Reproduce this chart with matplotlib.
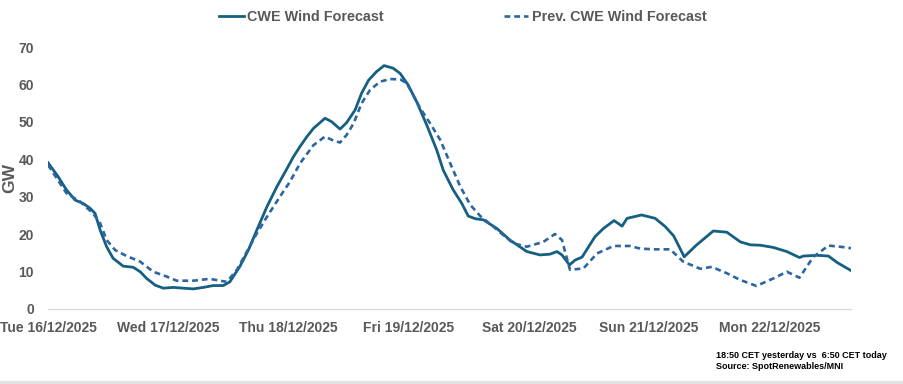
import matplotlib
matplotlib.use("Agg")
import matplotlib.pyplot as plt
import matplotlib.dates as mdates
from matplotlib.patches import Rectangle
import numpy as np
import pandas as pd

# Hours after Tue 16/12/2025 00:00 and forecast values in GW
cwe_hours = [0.0, 2.0, 3.7, 5.4, 7.0, 8.4, 9.4, 10.4, 11.7, 13.0, 15.0, 17.0, 18.4, 19.7,
             21.4, 23.0, 25.0, 27.0, 29.0, 31.0, 33.0, 35.0, 36.3, 38.3, 40.0, 41.7, 43.7,
             45.7, 47.7, 49.0, 50.3, 51.7, 53.0, 55.3, 56.6, 58.3, 59.6, 61.3, 62.6, 64.0,
             65.6, 67.1, 68.9, 70.3, 71.9, 73.6, 75.6, 77.6, 78.9, 80.9, 82.6, 83.9, 85.3,
             86.9, 89.6, 92.2, 95.6, 98.2, 100.2, 101.6, 102.6, 104.1, 105.2, 106.6, 109.2,
             110.9, 113.0, 114.6, 115.6, 118.5, 121.2, 123.2, 124.9, 127.0, 129.5, 132.8,
             135.5, 138.2, 140.2, 142.2, 144.8, 147.5, 150.0, 150.8, 153.5, 155.8, 157.5, 160.3]
cwe_gw = [39.1, 35.4, 31.8, 29.1, 28.2, 26.9, 25.5, 21.1, 16.6, 13.5, 11.4, 11.1, 9.9, 8.1,
          6.3, 5.5, 5.7, 5.5, 5.3, 5.7, 6.2, 6.2, 7.2, 11.3, 15.7, 21.1, 27.3,
          32.7, 37.5, 40.7, 43.4, 46.1, 48.3, 51.0, 50.1, 48.1, 49.8, 53.2, 57.7, 61.2,
          63.5, 65.1, 64.4, 63.0, 59.9, 55.4, 49.2, 42.5, 37.1, 31.8, 28.2, 24.8, 24.1,
          23.8, 21.5, 18.4, 15.3, 14.4, 14.6, 15.3, 14.4, 11.7, 13.0, 13.8, 19.3,
          21.5, 23.6, 22.1, 24.2, 25.1, 24.2, 22.0, 19.5, 13.9, 17.1, 20.8,
          20.5, 17.9, 17.1, 17.0, 16.4, 15.3, 13.7, 14.1, 14.3, 14.1, 12.4, 10.2]

prev_hours = [0.0, 3.7, 6.4, 9.0, 10.4, 11.7, 13.4, 15.7, 18.4, 21.0, 23.7, 25.7, 29.0, 32.3,
              34.3, 35.7, 37.7, 39.7, 41.7, 43.7, 46.3, 48.3, 50.3, 53.0, 55.3, 57.0, 58.3,
              59.6, 61.0, 62.6, 64.3, 66.3, 68.3, 70.3, 71.6, 72.9, 74.3, 76.3, 78.3, 80.3,
              82.3, 84.3, 86.3, 88.9, 90.9, 92.9, 95.6, 98.9, 101.2, 102.6, 104.2, 106.9,
              109.6, 112.9, 116.2, 118.2, 120.9, 124.2, 126.8, 130.2, 132.5, 135.5, 138.2,
              141.4, 144.8, 147.5, 150.0, 152.8, 155.8, 158.1, 160.3]
prev_gw = [38.5, 30.9, 28.7, 25.5, 22.9, 18.4, 15.7, 14.1, 12.6, 9.9, 8.6, 7.5, 7.5, 8.0,
           7.5, 7.2, 10.4, 15.3, 20.2, 24.6, 30.0, 34.0, 38.9, 43.8, 46.1, 45.0, 44.5,
           46.5, 49.6, 55.0, 58.6, 60.8, 61.5, 61.4, 60.4, 57.2, 53.7, 49.6, 45.2, 38.9,
           32.7, 27.8, 24.8, 22.0, 19.7, 17.5, 16.6, 17.9, 20.0, 18.4, 10.4, 10.8,
           14.8, 16.8, 16.8, 16.1, 15.9, 15.9, 12.6, 10.7, 11.2, 9.5, 7.7,
           6.1, 8.1, 9.9, 8.3, 13.9, 16.9, 16.6, 16.2]

start = pd.Timestamp("2025-12-16")
day_ticks = pd.date_range("2025-12-16", "2025-12-22", freq="D")
y_ticks = [0, 10, 20, 30, 40, 50, 60, 70]

cwe_time = start + pd.to_timedelta(cwe_hours, unit="h")
prev_time = start + pd.to_timedelta(prev_hours, unit="h")

plt.rcParams['font.family'] = ['Liberation Sans', 'DejaVu Sans']
plt.rcParams['font.weight'] = 'bold'

fig = plt.figure(figsize=(9.04, 3.84), dpi=100)
ax = fig.add_axes([48 / 904, 1 - 308.7 / 384, (851 - 48) / 904, (308.7 - 47.3) / 384])

ax.plot(cwe_time, cwe_gw, color='#156082', lw=2.0, label='CWE Wind Forecast')
ax.plot(prev_time, prev_gw, color='#2B66A0', lw=1.9, linestyle=(0, (2.2, 1.5)),
        label='Prev. CWE Wind Forecast')

ax.set_xlim(start, start + pd.Timedelta(hours=160.3))
ax.set_ylim(0, 70)
ax.set_xticks(day_ticks)
ax.xaxis.set_major_formatter(mdates.DateFormatter('%a %d/%m/%Y'))
ax.set_yticks(y_ticks)

for s in ['top', 'right', 'left']:
    ax.spines[s].set_visible(False)
ax.spines['bottom'].set_color('#D9D9D9')
ax.spines['bottom'].set_linewidth(1.0)

ax.tick_params(axis='x', length=0, pad=9, labelsize=10, labelcolor='#595959')
ax.tick_params(axis='y', length=0, pad=10, labelsize=10, labelcolor='#595959')
for lbl in ax.get_xticklabels() + ax.get_yticklabels():
    lbl.set_fontweight('bold')

ax.set_ylabel('GW', fontsize=12.5, fontweight='bold', color='#595959')
ax.yaxis.set_label_coords(-38 / 803, 0.5)
ax.yaxis.label.set_va('center')

fig.legend(loc='upper center', bbox_to_anchor=(463 / 904, 1.0), ncol=2, frameon=False,
           fontsize=10.4, handlelength=1.7, handletextpad=0.25, columnspacing=8.3,
           labelcolor='#595959', borderaxespad=0.3)

fig.text(716 / 904, 1 - 358 / 384, '18:50 CET yesterday vs  6:50 CET today',
         fontsize=6.5, fontweight='bold', color='black', va='baseline')
fig.text(716 / 904, 1 - 369 / 384, 'Source: SpotRenewables/MNI',
         fontsize=6.5, fontweight='bold', color='black', va='baseline')

fig.patches.append(Rectangle((0, 0), 1, 3.5 / 384, transform=fig.transFigure,
                             color='#E3E3E3', zorder=0))

fig.savefig('out.png', dpi=100)
